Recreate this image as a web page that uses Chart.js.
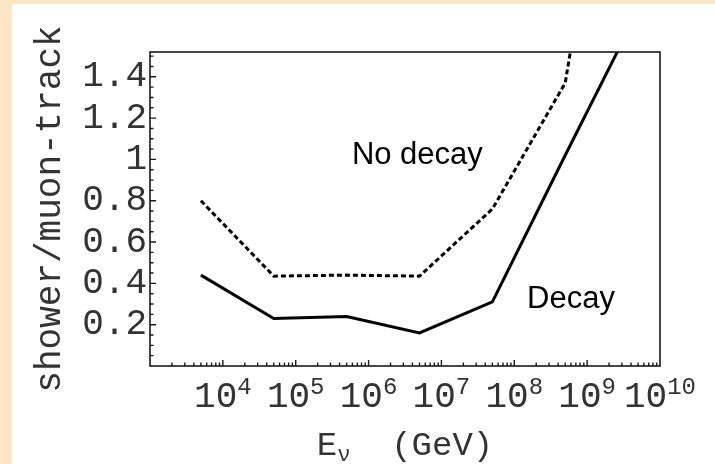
<!DOCTYPE html>
<html>
<head>
<meta charset="utf-8">
<title>shower/muon-track</title>
<script src="https://cdn.jsdelivr.net/npm/chart.js@4.4.0/dist/chart.umd.min.js"></script>
<style>
  html, body { margin: 0; padding: 0; width: 715px; height: 464px; overflow: hidden; background: #fbe7c6; }
  #wrap { position: absolute; left: 12px; top: 4px; width: 703px; height: 460px; background: #ffffff; }
</style>
</head>
<body>
<div id="wrap"><canvas id="my-chart" width="703" height="460"></canvas></div>
<script>
'use strict'

// neutrino energy (GeV) at each computed point
let energies = [5e3, 5e4, 5e5, 5e6, 5e7, 5e8, 5e9];
// ratio shower / muon-track
let decayRatio = [0.44, 0.23, 0.24, 0.16, 0.31, 1.02, 1.72];
let noDecayRatio = [0.80, 0.435, 0.44, 0.435, 0.76, 1.37, 3.5];

let xExponents = [4, 5, 6, 7, 8, 9, 10];
let curveNames = ['No decay', 'Decay'];
let nameEnergy = [5.9e5, 1.5e8];
let nameRatio = [0.977, 0.28];

let mono = "'Courier New', 'Liberation Mono', monospace";
let sans = "'Liberation Sans', Arial, sans-serif";

function toPoints(values) {
  let pts = [];
  for (let i = 0; i < energies.length; i++) {
    pts.push({ x: energies[i], y: values[i] });
  }
  return pts;
}

// frame, inward ticks, x labels with exponents, x title, curve names
let mathematicaLook = {
  id: 'mathematicaLook',
  afterDatasetsDraw(chart) {
    let ctx = chart.ctx;
    let area = chart.chartArea;
    let xs = chart.scales.x;
    let ys = chart.scales.y;
    ctx.save();
    ctx.strokeStyle = '#1a1a1a';
    ctx.lineWidth = 1.6;
    ctx.strokeRect(area.left, area.top, area.right - area.left, area.bottom - area.top);

    ctx.lineWidth = 1.4;
    ctx.beginPath();
    for (let i = 1; i * 0.05 < ys.max; i++) {
      let y = ys.getPixelForValue(i * 0.05);
      let len = i % 4 === 0 ? 6 : 3.5;
      ctx.moveTo(area.left, y);
      ctx.lineTo(area.left + len, y);
    }
    for (let e = 3; e < 10; e++) {
      for (let k = 1; k <= 9; k++) {
        let v = k * Math.pow(10, e);
        if (v <= xs.min) continue;
        let x = xs.getPixelForValue(v);
        let len = k === 1 ? 6 : 3.5;
        ctx.moveTo(x, area.bottom);
        ctx.lineTo(x, area.bottom - len);
      }
    }
    ctx.stroke();

    // tick labels 10^n
    ctx.fillStyle = '#333';
    ctx.textBaseline = 'alphabetic';
    ctx.textAlign = 'left';
    xExponents.forEach(function (e) {
      let px = xs.getPixelForValue(Math.pow(10, e));
      ctx.font = '36px ' + mono;
      let w1 = ctx.measureText('10').width;
      ctx.font = '24px ' + mono;
      let w2 = ctx.measureText(String(e)).width;
      let x0 = px - (w1 + w2) / 2;
      ctx.font = '36px ' + mono;
      ctx.fillText('10', x0, area.bottom + 41);
      ctx.font = '24px ' + mono;
      ctx.fillText(String(e), x0 + w1, area.bottom + 28);
    });

    // axis title E_nu (GeV)
    ctx.font = '34px ' + mono;
    let wE = ctx.measureText('E').width;
    let wGeV = ctx.measureText('  (GeV)').width;
    ctx.font = '22px ' + mono;
    let wNu = ctx.measureText('\u03bd').width;
    let cx = (area.left + area.right) / 2;
    let tx = cx - (wE + wNu + wGeV) / 2;
    let ty = area.bottom + 89;
    ctx.font = '34px ' + mono;
    ctx.fillText('E', tx, ty);
    ctx.font = '22px ' + mono;
    ctx.fillText('\u03bd', tx + wE, ty + 6);
    ctx.font = '34px ' + mono;
    ctx.fillText('  (GeV)', tx + wE + wNu, ty);

    // curve names
    ctx.fillStyle = '#000';
    ctx.font = '31px ' + sans;
    for (let i = 0; i < curveNames.length; i++) {
      ctx.fillText(curveNames[i], xs.getPixelForValue(nameEnergy[i]), ys.getPixelForValue(nameRatio[i]));
    }
    ctx.restore();
  }
};

let chartContext = document.getElementById('my-chart').getContext('2d');

let chartConfig = {
  type: 'line',
  data: {
    datasets: [{
      label: curveNames[0],
      data: toPoints(noDecayRatio),
      borderColor: '#000',
      borderWidth: 3,
      borderDash: [5, 3],
      pointRadius: 0,
      tension: 0,
      fill: false,
    }, {
      label: curveNames[1],
      data: toPoints(decayRatio),
      borderColor: '#000',
      borderWidth: 3,
      pointRadius: 0,
      tension: 0,
      fill: false,
    }],
  },
  options: {
    responsive: false,
    animation: false,
    devicePixelRatio: 1,
    layout: { padding: { top: 48, right: 55, left: 0, bottom: 0 } },
    plugins: { legend: { display: false }, tooltip: { enabled: false } },
    scales: {
      x: {
        type: 'logarithmic',
        min: 1e3,
        max: 1e10,
        grid: { display: false, drawTicks: false },
        border: { display: false },
        ticks: { display: false },
        afterFit: function (scale) { scale.height = 98; },
      },
      y: {
        min: 0,
        max: 1.52,
        grid: { display: false, drawTicks: false },
        border: { display: false },
        ticks: {
          stepSize: 0.2,
          includeBounds: false,
          autoSkip: false,
          padding: 3,
          color: '#333',
          font: { family: mono, size: 36 },
          callback: function (v) {
            let r = Math.round(v * 10) / 10;
            if (r === 0 || Math.abs(v - r) > 1e-6) return '';
            return String(r);
          },
        },
        title: {
          display: true,
          text: 'shower/muon-track',
          color: '#333',
          font: { family: mono, size: 36 },
          padding: { top: 17, bottom: 0 },
        },
        afterFit: function (scale) { scale.width = 138; },
      },
    },
  },
  plugins: [mathematicaLook],
};

let myChart = new Chart(chartContext, chartConfig);
</script>
</body>
</html>
